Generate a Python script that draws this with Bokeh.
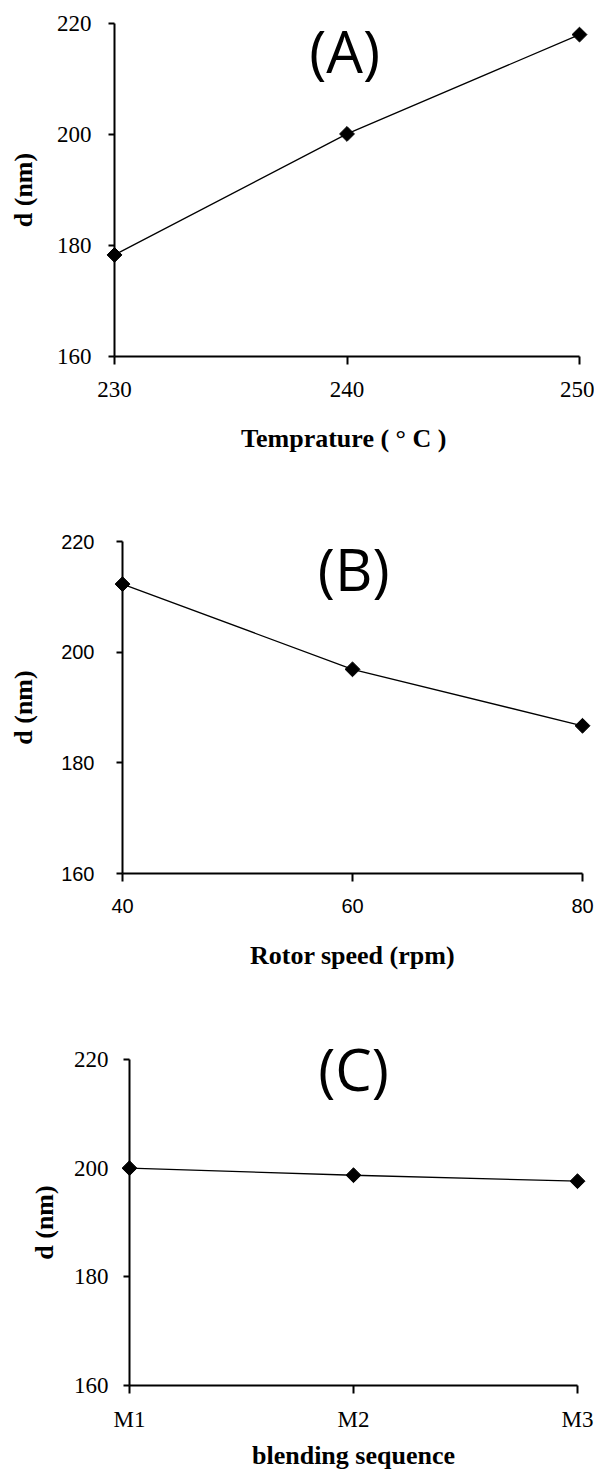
import numpy as np
from bokeh.plotting import figure
from bokeh.models import FixedTicker, Range1d
from bokeh.core.properties import value
from bokeh.embed import file_html
from bokeh.resources import INLINE

# ---- data ----
temp_x = [230, 240, 250]
temp_d = [178.3, 200.1, 218.0]

rotor_x = [40, 60, 80]
rotor_d = [212.3, 196.9, 186.7]

blend_cats = ["M1", "M2", "M3"]
blend_x = [1, 2, 3]
blend_d = [200.0, 198.7, 197.6]

y_ticks = [160, 180, 200, 220]

SERIF = "Liberation Serif"
SANS = "Liberation Sans"
TITLE_FONT = "Open Sans"
W = 594


def make_panel(xs, ys, xr, xticks, tick_font, tick_size, xlabel, letter, letter_xy,
               height, bl, bt, br, bb, xstand, ystand, xlab_stand, ylab_stand,
               overrides=None):
    p = figure(width=W, height=height,
               min_border_left=bl, min_border_top=bt, min_border_right=br, min_border_bottom=bb,
               x_range=Range1d(*xr), y_range=Range1d(160, 220),
               output_backend="svg", toolbar_location=None)
    p.outline_line_color = None
    p.xgrid.visible = False
    p.ygrid.visible = False
    p.background_fill_color = "white"
    p.border_fill_color = "white"

    for ax in (p.xaxis[0], p.yaxis[0]):
        ax.axis_line_color = "black"
        ax.axis_line_width = 2
        ax.major_tick_line_color = "black"
        ax.major_tick_line_width = 2
        ax.major_tick_in = 0
        ax.minor_tick_line_color = None
        ax.minor_tick_out = 0
        ax.major_label_text_font = tick_font
        ax.major_label_text_font_size = tick_size
        ax.major_label_text_color = "black"
        ax.axis_label_text_font = SERIF
        ax.axis_label_text_font_style = "bold"
        ax.axis_label_text_font_size = "26px"
        ax.axis_label_text_color = "black"

    p.xaxis.ticker = FixedTicker(ticks=xticks)
    p.yaxis.ticker = FixedTicker(ticks=y_ticks)
    if overrides:
        p.xaxis.major_label_overrides = overrides
    p.xaxis.major_tick_out = 8
    p.yaxis.major_tick_out = 6
    p.xaxis.major_label_standoff = xstand
    p.yaxis.major_label_standoff = ystand
    p.xaxis.axis_label = xlabel
    p.yaxis.axis_label = "d (nm)"
    p.xaxis.axis_label_standoff = xlab_stand
    p.yaxis.axis_label_standoff = ylab_stand

    p.line(xs, ys, line_color="black", line_width=1.3, level="overlay")
    p.scatter(xs, ys, marker="square", angle=np.pi / 4, size=10.5,
              fill_color="black", line_color="black", level="overlay")

    p.text(x=[letter_xy[0]], y=[letter_xy[1]], text=[letter],
           text_font=value(TITLE_FONT), text_font_size="58px",
           text_align="center", text_baseline="middle",
           text_color="black", level="overlay")
    return p


# heights: A 0->480, B 480->990, C 990->1472 (page has no margin)
pA = make_panel(temp_x, temp_d, (230, 250), temp_x, SERIF, "23px",
                "Temprature ( \u00b0  C )", "(A)", (239.9, 215.1),
                480, 114, 23, 15, 124, 17, 17, 24, 16)

pB = make_panel(rotor_x, rotor_d, (40, 80), rotor_x, SANS, "20px",
                "Rotor speed (rpm)", "(B)", (60.1, 215.1),
                510, 122, 61, 12, 117, 17, 22, 25, 20)

pC = make_panel(blend_x, blend_d, (1, 3), blend_x, SERIF, "23px",
                "blending sequence", "(C)", (2.0, 218.4),
                482, 129, 69, 17, 79, 13, 15, 6, 12,
                overrides={x: c for x, c in zip(blend_x, blend_cats)})

open("out.html", "w").write(file_html([pA, pB, pC], INLINE))
